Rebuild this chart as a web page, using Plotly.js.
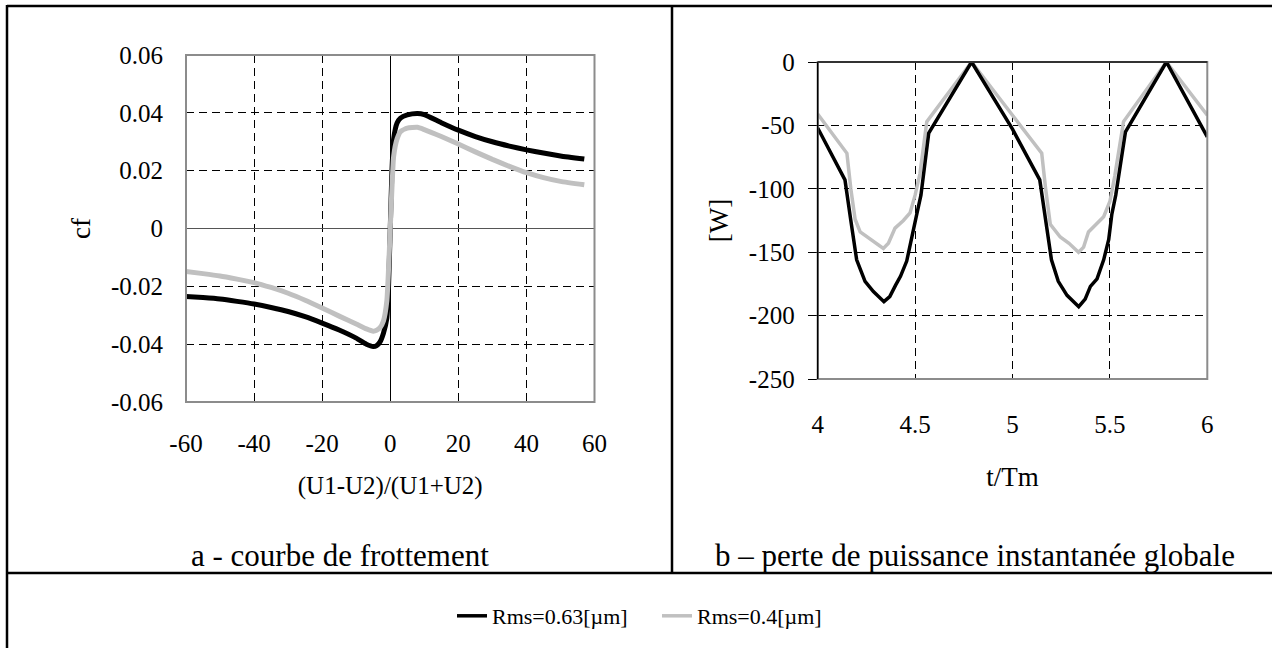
<!DOCTYPE html>
<html>
<head>
<meta charset="utf-8">
<script src="https://cdn.plot.ly/plotly-3.0.1.min.js"></script>
<style>html,body{margin:0;padding:0;background:#fff;}#chart{width:1272px;height:648px;}</style>
</head>
<body>
<div id="chart"></div>
<script>
// ---- data: friction curve (panel a) ----
const slipRatio = [-60,-55,-50,-45,-40,-35,-30,-25,-20,-15,-10,-7,-5,-4,-3,-2,-1,-0.5,0,0.5,1,2,3,5,8,10,15,20,25,30,35,40,45,50,57];
const cfRms063 = [-0.0235,-0.0239,-0.0244,-0.0252,-0.0261,-0.0273,-0.0287,-0.0305,-0.0327,-0.0351,-0.0379,-0.0400,-0.0408,-0.0405,-0.0392,
                  -0.0362,-0.0310,-0.0200,0,0.0200,0.0310,0.0365,0.0382,0.0393,0.0398,
                  0.0394,0.0366,0.0340,0.0318,0.0300,0.0285,0.0272,0.0261,0.0251,0.0240];
const cfRms04 = [-0.0149,-0.0156,-0.0164,-0.0175,-0.0187,-0.0204,-0.0224,-0.0248,-0.0275,-0.0303,-0.0330,-0.0347,-0.0355,-0.0352,-0.0343,
                 -0.0320,-0.0250,-0.0140,0,0.0140,0.0250,0.0310,0.0335,0.0347,0.0350,
                 0.0342,0.0318,0.0292,0.0265,0.0239,0.0215,0.0193,0.0176,0.0163,0.0151];

// ---- data: instantaneous power loss (panel b) ----
const tRms063 = [4.00,4.14,4.17,4.20,4.243,4.286,4.34,4.37,4.40,4.425,4.457,4.49,4.51,4.53,4.57,4.79,
                 5.00,5.14,5.17,5.20,5.235,5.28,5.34,5.373,5.40,5.434,5.468,5.494,5.51,5.53,5.58,5.79,6.00];
const wRms063 = [-52,-93,-125,-156,-173,-181,-189,-185,-176,-169,-157,-135,-119,-105,-56,0,
                 -53,-93,-125,-156,-173,-184,-193,-187,-177,-171,-156,-140,-120,-105,-55,0,-59];
const tRms04 = [4.00,4.15,4.17,4.192,4.218,4.27,4.337,4.363,4.397,4.44,4.474,4.50,4.525,4.56,4.79,
                5.00,5.15,5.17,5.194,5.245,5.29,5.339,5.365,5.39,5.434,5.468,5.50,5.525,5.57,5.79,6.00];
const wRms04 = [-41,-72,-100,-124,-134,-140,-147,-143,-131,-125,-119,-105,-88,-47,0,
                -42,-72,-100,-128,-138,-143,-150,-146,-134,-127,-122,-110,-90,-47,0,-42];

// ---- labels / ticks ----
const seriesNames = ['Rms=0.63[\u00b5m]', 'Rms=0.4[\u00b5m]'];
const xTickValsA = [-60,-40,-20,0,20,40,60];
const xTickTextA = ['-60','-40','-20','0','20','40','60'];
const yTickValsA = [-0.06,-0.04,-0.02,0,0.02,0.04,0.06];
const yTickTextA = ['-0.06','-0.04','-0.02','0','0.02','0.04','0.06'];
const xTickValsB = [4,4.5,5,5.5,6];
const xTickTextB = ['4','4.5','5','5.5','6'];
const yTickValsB = [-250,-200,-150,-100,-50,0];
const yTickTextB = ['-250','-200','-150','-100','-50','0'];
const panelTitles = ['a - courbe de frottement', 'b \u2013 perte de puissance instantan\u00e9e globale'];

const FONT = 'Liberation Serif';
const BLACK = '#000000', GREY = '#c0c0c0';
const W = 1272, H = 648;
const px = v => v / W, py = v => 1 - v / H;
const tf = () => ({family:FONT, size:25, color:'#000'});

const traces = [
  {x: slipRatio, y: cfRms063, xaxis:'x', yaxis:'y', mode:'lines', name: seriesNames[0], showlegend:false,
   line:{color:BLACK, width:5, shape:'spline', smoothing:0.5}},
  {x: slipRatio, y: cfRms04, xaxis:'x', yaxis:'y', mode:'lines', name: seriesNames[1], showlegend:false,
   line:{color:GREY, width:5, shape:'spline', smoothing:0.5}},
  {x: tRms04, y: wRms04, xaxis:'x2', yaxis:'y2', mode:'lines', name: seriesNames[1], showlegend:true, legendrank:2,
   line:{color:GREY, width:3.5}},
  {x: tRms063, y: wRms063, xaxis:'x2', yaxis:'y2', mode:'lines', name: seriesNames[0], showlegend:true, legendrank:1,
   line:{color:BLACK, width:3.5}}
];

const layout = {
  width: W, height: H,
  margin:{l:0, r:0, t:0, b:0},
  paper_bgcolor:'#fff', plot_bgcolor:'#fff',
  font:{family:FONT, color:'#000', size:20},
  showlegend:true,
  legend:{orientation:'h', x:px(452), xanchor:'left', y:py(616), yanchor:'middle',
          font:{family:FONT, size:22, color:'#000'}, traceorder:'normal', entrywidth:160, bgcolor:'rgba(0,0,0,0)'},
  xaxis: {
    domain:[px(186), px(594.5)], range:[-60,60], anchor:'y', fixedrange:true,
    showgrid:true, gridcolor:'#000', gridwidth:1, griddash:'8px,5px', showline:false,
    tickfont:tf(), tickmode:'array', tickvals:xTickValsA, ticktext:xTickTextA, ticks:'', ticklabelstandoff:24,
    zeroline:true, zerolinecolor:'#000', zerolinewidth:1,
    title:{text:'(U1-U2)/(U1+U2)', font:{family:FONT, size:25, color:'#000'}, standoff:20}
  },
  yaxis: {
    domain:[py(402), py(55)], range:[-0.06,0.06], anchor:'x', fixedrange:true,
    showgrid:true, gridcolor:'#000', gridwidth:1, griddash:'8px,5px', showline:false,
    tickfont:tf(), tickmode:'array', tickvals:yTickValsA, ticktext:yTickTextA, ticks:'', ticklabelstandoff:22,
    zeroline:true, zerolinecolor:'#555', zerolinewidth:1.5,
    title:{text:'cf', font:{family:FONT, size:27, color:'#000'}, standoff:12}
  },
  xaxis2: {
    domain:[px(817.7), px(1207.3)], range:[4,6], anchor:'y2', fixedrange:true,
    showgrid:true, gridcolor:'#000', gridwidth:1, griddash:'8px,5px', showline:false,
    tickfont:tf(), tickmode:'array', tickvals:xTickValsB, ticktext:xTickTextB, ticks:'', ticklabelstandoff:28,
    zeroline:false,
    title:{text:'t/Tm', font:{family:FONT, size:27, color:'#000'}, standoff:30}
  },
  yaxis2: {
    domain:[py(379), py(62)], range:[-250,0], anchor:'x2', fixedrange:true,
    showgrid:true, gridcolor:'#000', gridwidth:1, griddash:'8px,5px', showline:false,
    tickfont:tf(), tickmode:'array', tickvals:yTickValsB, ticktext:yTickTextB,
    ticks:'outside', ticklen:9, tickcolor:'#000', tickwidth:1, ticklabelstandoff:8,
    zeroline:false,
    title:{text:'[W]', font:{family:FONT, size:27, color:'#000'}, standoff:12}
  },
  shapes:[
    {type:'rect', xref:'x domain', yref:'y domain', x0:0, x1:1, y0:0, y1:1, line:{color:'#8c8c8c', width:2}},
    {type:'rect', xref:'x2 domain', yref:'y2 domain', x0:0, x1:1, y0:0, y1:1, line:{color:'#8c8c8c', width:2}},
    {type:'line', xref:'x2 domain', yref:'y2 domain', x0:0, x1:0, y0:0, y1:1, line:{color:'#000', width:1.5}},
    {type:'line', xref:'x2 domain', yref:'y2 domain', x0:0, x1:1, y0:1, y1:1, line:{color:'#333', width:2}},
    {type:'line', xref:'paper', yref:'paper', x0:px(7), x1:1, y0:py(6), y1:py(6), line:{color:'#000', width:2.5}},
    {type:'line', xref:'paper', yref:'paper', x0:px(7), x1:px(7), y0:py(5), y1:0, line:{color:'#000', width:2.5}},
    {type:'line', xref:'paper', yref:'paper', x0:px(672), x1:px(672), y0:py(6), y1:py(573), line:{color:'#000', width:2.5}},
    {type:'line', xref:'paper', yref:'paper', x0:px(7), x1:1, y0:py(573), y1:py(573), line:{color:'#000', width:2.5}}
  ],
  annotations:[
    {text:panelTitles[0], xref:'paper', yref:'paper', x:px(339.5), y:py(555), xanchor:'center', yanchor:'middle',
     showarrow:false, font:{family:FONT, size:31, color:'#000'}},
    {text:panelTitles[1], xref:'paper', yref:'paper', x:px(975), y:py(555), xanchor:'center', yanchor:'middle',
     showarrow:false, font:{family:FONT, size:31, color:'#000'}}
  ]
};

Plotly.newPlot('chart', traces, layout, {staticPlot:true, displayModeBar:false});
</script>
</body>
</html>
